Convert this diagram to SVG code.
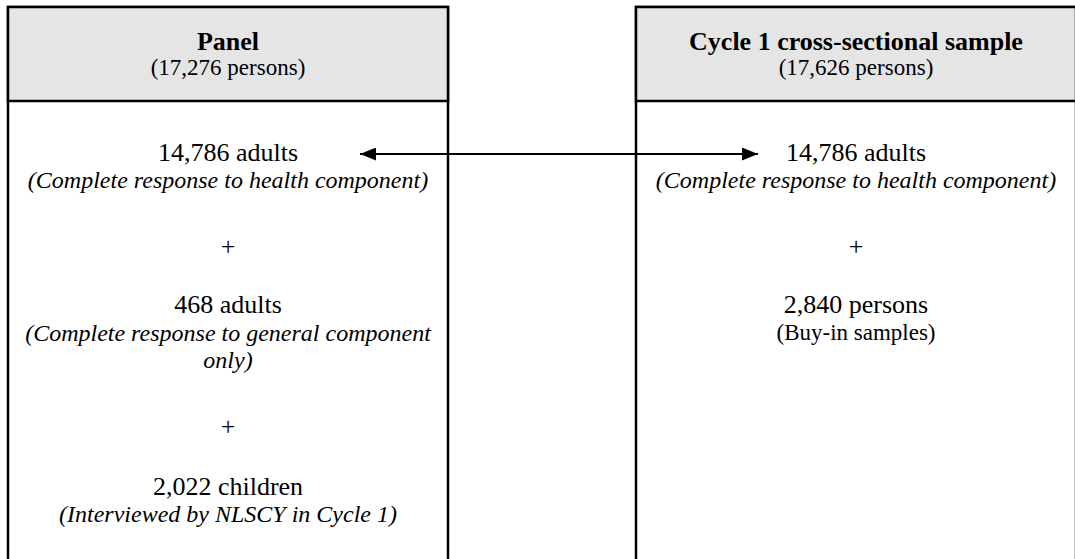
<svg xmlns="http://www.w3.org/2000/svg" width="1075" height="559" viewBox="0 0 1075 559">
<style>
.box{fill:#ffffff;stroke:#000;stroke-width:2.5}
.hdr{fill:#e5e5e5;stroke:#000;stroke-width:2.5}
text{font-family:"Liberation Serif","Times New Roman",serif;fill:#000;text-anchor:middle}
.t{font-size:26px;font-weight:bold}
.s{font-size:23px}
.n{font-size:26px}
.i{font-size:24px;font-style:italic}
.conn{stroke:#000;stroke-width:1.8;fill:none}
</style>
<defs>
<marker id="ah" markerUnits="userSpaceOnUse" markerWidth="16" markerHeight="13" refX="16" refY="6.5" orient="auto-start-reverse">
<path d="M0,0 L16,6.5 L0,13 Z" fill="#000"/>
</marker>
</defs>
<g id="panel">
<rect class="box" x="8" y="7" width="440" height="600"/>
<rect class="hdr" x="8" y="7" width="440" height="94"/>
<text class="t" x="228" y="50">Panel</text>
<text class="s" x="228" y="75">(17,276 persons)</text>
<text class="n" x="228" y="161">14,786 adults</text>
<text class="i" x="228" y="188">(Complete response to health component)</text>
<text class="n" x="228" y="255">+</text>
<text class="n" x="228" y="313">468 adults</text>
<text class="i" x="228" y="341">(Complete response to general component</text>
<text class="i" x="228" y="368">only)</text>
<text class="n" x="228" y="435">+</text>
<text class="n" x="228" y="495">2,022 children</text>
<text class="i" x="228" y="522">(Interviewed by NLSCY in Cycle 1)</text>
</g>
<g id="cross">
<rect class="box" x="636" y="7" width="440" height="600"/>
<rect class="hdr" x="636" y="7" width="440" height="94"/>
<text class="t" x="856" y="50">Cycle 1 cross-sectional sample</text>
<text class="s" x="856" y="75">(17,626 persons)</text>
<text class="n" x="856" y="161">14,786 adults</text>
<text class="i" x="856" y="188">(Complete response to health component)</text>
<text class="n" x="856" y="255">+</text>
<text class="n" x="856" y="313">2,840 persons</text>
<text class="s" x="856" y="340">(Buy-in samples)</text>
</g>
<g id="connectors">
<line class="conn" x1="360" y1="154" x2="758" y2="154" marker-start="url(#ah)" marker-end="url(#ah)"/>
</g>
</svg>
